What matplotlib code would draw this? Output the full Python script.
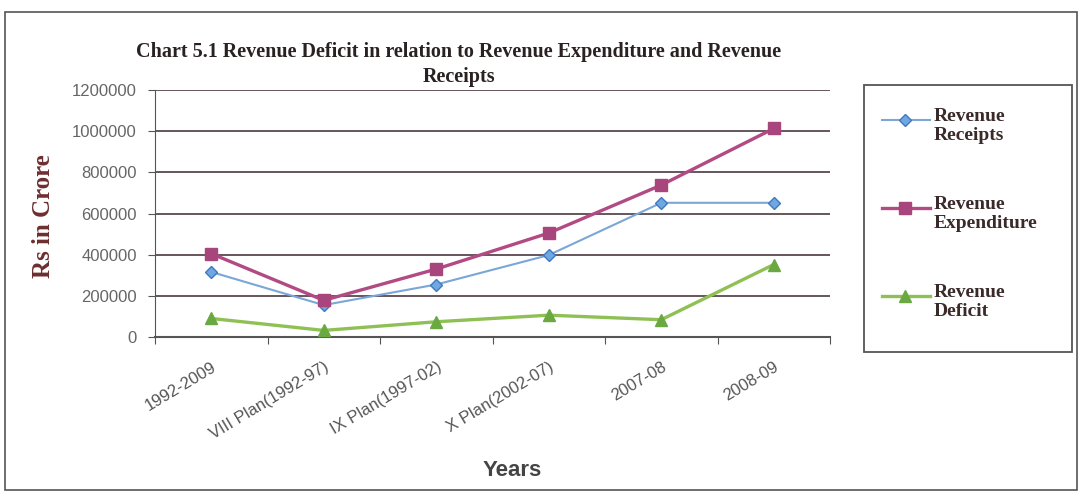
import matplotlib
matplotlib.use("Agg")
import matplotlib.pyplot as plt
from matplotlib.patches import Rectangle
from matplotlib.lines import Line2D

categories = ["1992-2009", "VIII Plan(1992-97)", "IX Plan(1997-02)",
              "X Plan(2002-07)", "2007-08", "2008-09"]
revenue_receipts = [316000, 155000, 255000, 398000, 652000, 652000]
revenue_expenditure = [405000, 178000, 330000, 505000, 738000, 1013000]
revenue_deficit = [90000, 32000, 74000, 106000, 84000, 352000]
series_labels = ["Revenue\nReceipts", "Revenue\nExpenditure", "Revenue\nDeficit"]
y_ticks = [0, 200000, 400000, 600000, 800000, 1000000, 1200000]

W, H = 1082, 498
fig = plt.figure(figsize=(W / 100, H / 100), dpi=100)
fig.patch.set_facecolor("white")


def fx(px):
    return px / W


def fy(py):
    return 1 - py / H


# outer frame
fig.add_artist(Rectangle((fx(5), fy(490)), fx(1077) - fx(5), fy(12) - fy(490),
                         transform=fig.transFigure, fill=False,
                         edgecolor="#555555", linewidth=1.2))

ax = fig.add_axes([fx(155), fy(337), fx(830) - fx(155), fy(90) - fy(337)])
x = list(range(len(categories)))

styles = [
    dict(color="#7aa6d8", linewidth=1.5, marker="D", markersize=6.5,
         markerfacecolor="#6fa8e0", markeredgecolor="#3f78c0"),
    dict(color="#b24a84", linewidth=2.4, marker="s", markersize=8.5,
         markerfacecolor="#a8457c", markeredgecolor="#a8457c"),
    dict(color="#8fc055", linewidth=2.4, marker="^", markersize=8.5,
         markerfacecolor="#6aa842", markeredgecolor="#6aa842"),
]
for vals, st in zip([revenue_receipts, revenue_expenditure, revenue_deficit], styles):
    ax.plot(x, vals, zorder=3, **st)

ax.set_xlim(-0.5, len(categories) - 0.5)
ax.set_ylim(0, 1200000)
ax.set_yticks(y_ticks)
ax.set_yticklabels([str(v) for v in y_ticks], fontsize=12, color="#666666",
                   family="Liberation Sans")
ax.set_xticks([i + 0.5 for i in range(-1, len(categories))])
ax.set_xticklabels([])
ax.set_xticks(x, minor=True)
ax.set_xticklabels(categories, minor=True, rotation=31, ha="right",
                   rotation_mode="anchor", fontsize=12, color="#555555",
                   family="Liberation Sans")
ax.tick_params(axis="x", which="minor", length=0, pad=16)
ax.tick_params(axis="x", which="major", length=5, color="#555555")
ax.tick_params(axis="y", length=5, color="#555555", pad=8)
ax.grid(axis="y", color="#5a4850", linewidth=1.3)
ax.set_axisbelow(True)
for s in ["top", "right"]:
    ax.spines[s].set_visible(False)
ax.spines["left"].set_color("#555555")
ax.spines["bottom"].set_color("#555555")
ax.spines["bottom"].set_linewidth(1.5)

fig.text(fx(459), fy(52), "Chart 5.1 Revenue Deficit in relation to Revenue Expenditure and Revenue",
         ha="center", va="center", fontsize=14.5, fontweight="bold",
         family="Liberation Serif", color="#2a2222")
fig.text(fx(459), fy(77), "Receipts",
         ha="center", va="center", fontsize=14.5, fontweight="bold",
         family="Liberation Serif", color="#2a2222")
fig.text(fx(44), fy(216), "Rs in Crore", rotation=90, ha="center", va="center",
         fontsize=18, fontweight="bold", family="Liberation Serif", color="#6e2e30")
fig.text(fx(512), fy(470), "Years", ha="center", va="center",
         fontsize=16, fontweight="bold", family="Liberation Sans", color="#444444")

# legend drawn as a boxed key
fig.add_artist(Rectangle((fx(864), fy(352)), fx(1072) - fx(864), fy(85) - fy(352),
                         transform=fig.transFigure, fill=False,
                         edgecolor="#555555", linewidth=1.3))
for i, (lab, st) in enumerate(zip(series_labels, styles)):
    yy = 120 + 88 * i
    fig.add_artist(Line2D([fx(882), fx(930)], [fy(yy), fy(yy)],
                          transform=fig.transFigure, color=st["color"],
                          linewidth=st["linewidth"]))
    fig.add_artist(Line2D([fx(905)], [fy(yy)], transform=fig.transFigure,
                          linestyle="none", marker=st["marker"],
                          markersize=st["markersize"] * 0.95,
                          markerfacecolor=st["markerfacecolor"],
                          markeredgecolor=st["markeredgecolor"]))
    fig.text(fx(934), fy(yy - 12), lab, ha="left", va="top", fontsize=14,
             fontweight="bold", family="Liberation Serif", color="#3a2a2a",
             linespacing=1.15)

fig.savefig("out.png", dpi=100)
